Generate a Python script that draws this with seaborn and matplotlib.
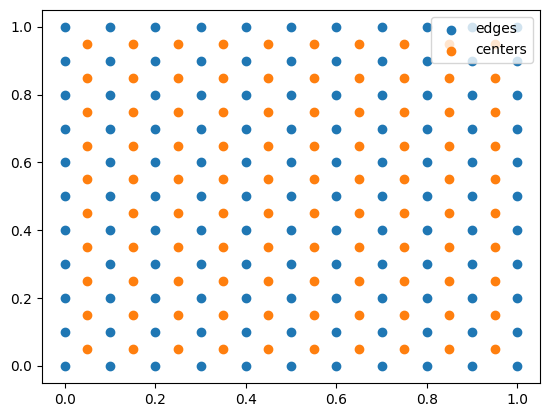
import matplotlib

matplotlib.use("Agg")
import matplotlib.pyplot as plt
import pandas as pd
import seaborn as sns

edge_ticks = [0.0, 0.1, 0.2, 0.3, 0.4, 0.5, 0.6, 0.7, 0.8, 0.9, 1.0]
center_ticks = [0.05, 0.15, 0.25, 0.35, 0.45, 0.55, 0.65, 0.75, 0.85, 0.95]

edges = pd.DataFrame([(x, y) for y in edge_ticks for x in edge_ticks], columns=["x", "y"])
centers = pd.DataFrame([(x, y) for y in center_ticks for x in center_ticks], columns=["x", "y"])

fig, ax = plt.subplots(figsize=(5.47, 4.13), dpi=100)
fig.subplots_adjust(left=0.077, right=0.987, top=0.976, bottom=0.073)

sns.scatterplot(data=edges, x="x", y="y", color="C0", s=36, linewidth=1.0, edgecolor="face", label="edges", ax=ax)
sns.scatterplot(data=centers, x="x", y="y", color="C1", s=36, linewidth=1.0, edgecolor="face", label="centers", ax=ax)
ax.set_xlabel("")
ax.set_ylabel("")
ax.legend(loc="upper right")

fig.savefig("out.png", dpi=100)
plt.close(fig)
